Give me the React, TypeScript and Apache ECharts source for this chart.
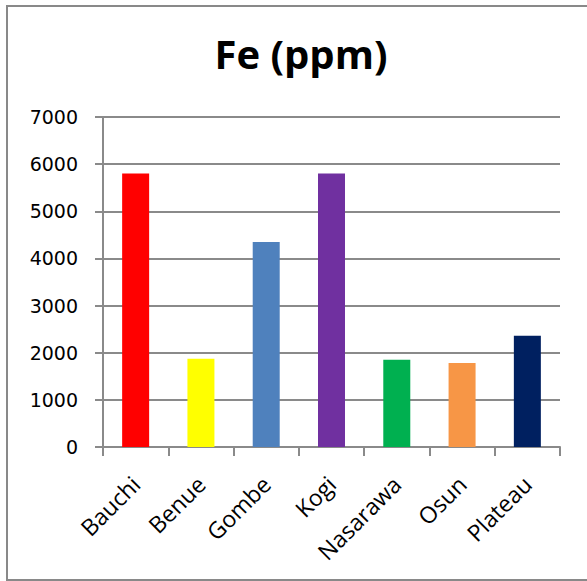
import React, { useEffect, useRef } from "react";
import * as echarts from "echarts";

// Iron concentration per state
const states = ["Bauchi", "Benue", "Gombe", "Kogi", "Nasarawa", "Osun", "Plateau"];
const feValues = [5800, 1870, 4350, 5800, 1850, 1780, 2360];
const barColors = ["#FF0000", "#FFFF00", "#4F81BD", "#7030A0", "#00B050", "#F79646", "#002060"];
const yTicks = { min: 0, max: 7000, interval: 1000 };

export default function App() {
  const ref = useRef<HTMLDivElement>(null);

  useEffect(() => {
    document.body.style.margin = "0";
    if (!ref.current) return;
    const chart = echarts.init(ref.current, undefined, { renderer: "svg" });
    const axisGray = "#8a8a8a";
    chart.setOption({
      animation: false,
      backgroundColor: "#ffffff",
      title: {
        text: "Fe (ppm)",
        left: 296,
        textAlign: "center",
        top: 28,
        textStyle: {
          fontFamily: "Open Sans",
          fontWeight: "bold",
          fontSize: 40,
          color: "#000000",
        },
      },
      graphic: [
        {
          type: "rect",
          shape: { x: 7, y: 6, width: 600, height: 574 },
          style: { fill: "none", stroke: "#898989", lineWidth: 2 },
          silent: true,
        },
      ],
      grid: { left: 103, right: 27, top: 117, bottom: 134, containLabel: false },
      xAxis: {
        type: "category",
        data: states,
        boundaryGap: true,
        axisLine: { show: true, lineStyle: { color: axisGray, width: 2 } },
        axisTick: { show: true, length: 9, alignWithLabel: false, lineStyle: { color: axisGray, width: 2 } },
        axisLabel: {
          rotate: 45,
          interval: 0,
          margin: 33,
          fontFamily: "Open Sans",
          fontSize: 23,
          color: "#000000",
        },
        splitLine: { show: false },
      },
      yAxis: {
        type: "value",
        min: yTicks.min,
        max: yTicks.max,
        interval: yTicks.interval,
        axisLine: { show: true, lineStyle: { color: axisGray, width: 2 } },
        axisTick: { show: true, length: 8, lineStyle: { color: axisGray, width: 2 } },
        axisLabel: {
          margin: 25,
          fontFamily: "DejaVu Sans",
          fontSize: 19,
          color: "#000000",
          formatter: (v: number) => String(v),
        },
        splitLine: { show: true, lineStyle: { color: axisGray, width: 2 } },
      },
      series: [
        {
          type: "bar",
          barWidth: 27,
          data: feValues.map((v, i) => ({ value: v, itemStyle: { color: barColors[i] } })),
        },
      ],
    });
    return () => chart.dispose();
  }, []);

  return <div ref={ref} style={{ width: 587, height: 581 }} />;
}
